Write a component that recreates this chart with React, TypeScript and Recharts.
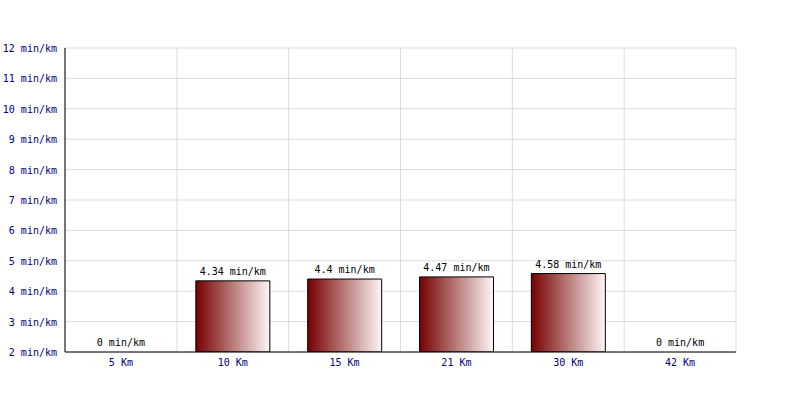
import { Bar, CartesianGrid, ComposedChart, Scatter, XAxis, YAxis } from "recharts";

const categories = ["5 Km", "10 Km", "15 Km", "21 Km", "30 Km", "42 Km"];
const paces = [0, 4.34, 4.4, 4.47, 4.58, 0];
const yTicks = [2, 3, 4, 5, 6, 7, 8, 9, 10, 11, 12];

const data = categories.map((km, i) => ({ km, pace: paces[i] }));

const font = { fontSize: 10, fontFamily: "'DejaVu Sans Mono', monospace" };

// bars below the axis minimum are drawn flat on the axis
const shown = (d: { pace: number }) => Math.max(d.pace, 2);

// plain svg text so recharts does not wrap "12 min/km" into two lines
function YTick(props: any) {
  const { x, y, payload } = props;
  return (
    <text x={x} y={y} dy={4} textAnchor="end" fill="#000080" {...font}>
      {`${payload.value} min/km`}
    </text>
  );
}

function XTick(props: any) {
  const { x, y, payload } = props;
  return (
    <text x={x} y={y} dy={6} textAnchor="middle" fill="#000080" {...font}>
      {payload.value}
    </text>
  );
}

function ValueLabel(props: any) {
  const { cx, cy, payload } = props;
  return (
    <text x={cx} y={cy - 6} textAnchor="middle" fill="#000" {...font}>
      {`${payload.pace} min/km`}
    </text>
  );
}

export default function App() {
  return (
    <div style={{ position: "absolute", left: 0, top: 0, width: 800, height: 400, background: "#fff" }}>
      <ComposedChart width={800} height={400} data={data} margin={{ top: 48, right: 64, left: 0, bottom: 0 }}>
        <defs>
          <linearGradient id="barFill" x1="0" y1="0" x2="1" y2="0">
            <stop offset="0%" stopColor="#760000" />
            <stop offset="100%" stopColor="#fdf6f6" />
          </linearGradient>
        </defs>
        <CartesianGrid
          stroke="#dcdcdc"
          verticalCoordinatesGenerator={({ offset }: any) =>
            [...categories, ""].map((_, i) => offset.left + (i * offset.width) / categories.length)
          }
        />
        <XAxis
          dataKey="km"
          height={48}
          axisLine={{ stroke: "#000" }}
          tickLine={false}
          tick={<XTick />}
        />
        <YAxis
          width={65}
          domain={[2, 12]}
          ticks={yTicks}
          allowDataOverflow
          axisLine={{ stroke: "#000" }}
          tickLine={false}
          tick={<YTick />}
        />
        <Bar
          dataKey={shown}
          fill="url(#barFill)"
          stroke="#000"
          strokeWidth={1}
          barSize={74}
          isAnimationActive={false}
        />
        <Scatter dataKey={shown} shape={<ValueLabel />} isAnimationActive={false} />
      </ComposedChart>
    </div>
  );
}
